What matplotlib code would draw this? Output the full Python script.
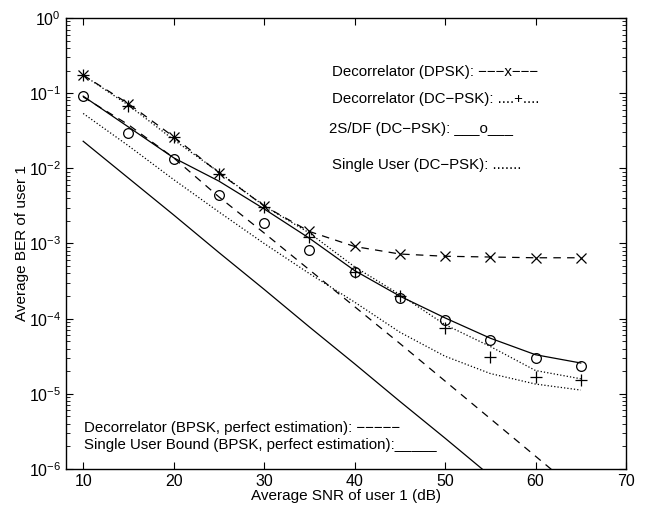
import numpy as np
import matplotlib
matplotlib.use('Agg')
import matplotlib.pyplot as plt

plt.rcParams['font.family'] = ['Liberation Sans', 'DejaVu Sans']

snr = [10, 15, 20, 25, 30, 35, 40, 45, 50, 55, 60, 65]

# log10 of BER
dpsk_dec = [-0.76, -1.14, -1.58, -2.06, -2.50, -2.84, -3.04, -3.14, -3.17, -3.18, -3.19, -3.19]
dcpsk_dec = [-0.76, -1.16, -1.62, -2.05, -2.50, -2.86, -3.31, -3.68, -4.08, -4.37, -4.69, -4.80]
dcpsk_dec_sim = [-0.76, -1.17, -1.58, -2.08, -2.51, -2.91, -3.38, -3.70, -4.12, -4.51, -4.77, -4.81]
sdf = [-1.04, -1.45, -1.86, -2.17, -2.54, -2.93, -3.36, -3.70, -3.99, -4.26, -4.48, -4.59]
sdf_sim = [-1.04, -1.53, -1.87, -2.35, -2.73, -3.09, -3.38, -3.73, -4.02, -4.29, -4.52, -4.63]
single_dcpsk = [-1.27, -1.70, -2.15, -2.58, -3.00, -3.40, -3.78, -4.18, -4.50, -4.73, -4.87, -4.95]
dec_bpsk = [-1.05, -1.42, -1.86, -2.38, -2.86, -3.35, -3.84, -4.33, -4.83, -5.33, -5.83, -6.33]
single_bpsk = [-1.64, -2.13, -2.62, -3.12, -3.61, -4.11, -4.60, -5.10, -5.59, -6.09, -6.58, -7.08]

p = lambda v: 10.0 ** np.array(v)

fig = plt.figure(figsize=(6.47, 5.08), dpi=100)
ax = fig.add_axes([0.102, 0.0768, 0.8655, 0.8878])

lw = 0.9
ax.semilogy(snr, p(dpsk_dec), 'k--x', lw=lw, ms=7, mew=0.9, dashes=(6, 5))
ax.semilogy(snr, p(dcpsk_dec), 'k:', lw=lw)
ax.semilogy(snr, p(dcpsk_dec_sim), 'k+', ms=8, mew=0.9)
ax.semilogy(snr, p(sdf), 'k-', lw=lw)
ax.semilogy(snr, p(sdf_sim), 'ko', ms=7, mfc='none', mew=0.9)
ax.semilogy(snr, p(single_dcpsk), 'k:', lw=lw)
ax.semilogy(snr, p(dec_bpsk), 'k--', lw=lw, dashes=(6, 5))
ax.semilogy(snr, p(single_bpsk), 'k-', lw=lw)

ax.set_xlim(8.1, 70)
ax.set_ylim(1e-6, 1)
ax.set_xticks([10, 20, 30, 40, 50, 60, 70])
ax.tick_params(which='both', direction='in', top=True, right=True, labelsize=11.5)
ax.tick_params(which='major', length=5)
ax.tick_params(which='minor', length=3)
for s in ax.spines.values():
    s.set_linewidth(1.0)

ax.set_xlabel('Average SNR of user 1 (dB)', fontsize=11, labelpad=0)
ax.set_ylabel('Average BER of user 1', fontsize=11, labelpad=0)

fs = 10.8
ax.text(37.5, 10 ** -0.72, 'Decorrelator (DPSK): \u2212\u2212\u2212x\u2212\u2212\u2212', fontsize=fs, va='center')
ax.text(37.5, 10 ** -1.08, 'Decorrelator (DC\u2212PSK): ....+....', fontsize=fs, va='center')
ax.text(37.2, 10 ** -1.48, '2S/DF (DC\u2212PSK): ___o___', fontsize=fs, va='center')
ax.text(37.5, 10 ** -1.96, 'Single User (DC\u2212PSK): .......', fontsize=fs, va='center')
ax.text(10.1, 10 ** -5.45, 'Decorrelator (BPSK, perfect estimation): \u2212\u2212\u2212\u2212\u2212', fontsize=fs, va='center')
ax.text(10.1, 10 ** -5.68, 'Single User Bound (BPSK, perfect estimation):_____', fontsize=fs, va='center')

fig.savefig('out.png', dpi=100)
